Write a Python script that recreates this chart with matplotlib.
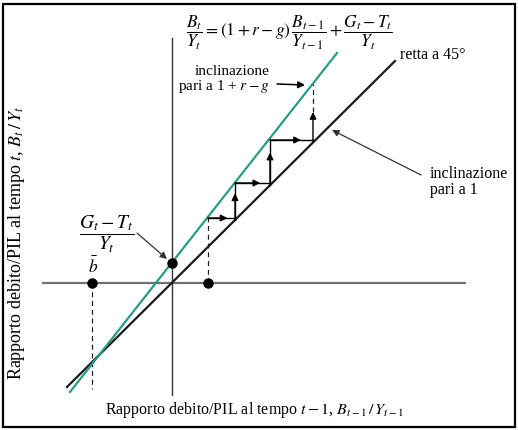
import matplotlib
matplotlib.use("Agg")
import matplotlib.pyplot as plt
from matplotlib.patches import Rectangle

plt.rcParams['font.family'] = 'serif'
plt.rcParams['font.serif'] = ['Liberation Serif', 'DejaVu Serif']
plt.rcParams['mathtext.fontset'] = 'stix'

# ---- data ----
black_x = [-105, 223]          # 45-degree line
black_y = [-104, 222]
green_x = [-102, 165]          # line with slope 1 + r - g
green_y = [-109, 230]
b_bar = -80                    # stable debt ratio
intercept = 20.5               # (G - T)/Y
start_b = 36                   # initial debt ratio
step_x = [36, 63, 98, 141]     # vertical positions of staircase
step_y = [65, 100, 143]        # horizontal levels of staircase
last_top_solid = 171
last_top_green = 199
low_cross = -106               # where the b_bar dashed line ends

TEAL = '#2b9a86'

fig = plt.figure(figsize=(5.18, 4.30), dpi=100)
ax = fig.add_axes([0, 0, 1, 1])
ax.set_xlim(-172, 346)
ax.set_ylim(-147, 283)
ax.axis('off')

# frame
fig.patches.append(Rectangle((2.5/518, 3/430), 512.5/518, 423.5/430, transform=fig.transFigure,
                             fill=False, lw=1.6, ec='black'))

# axes
ax.plot([-129, 293], [0, 0], color='#707070', lw=1.6, zorder=1)
ax.plot([0, 0], [-112, 245], color='#333333', lw=1.0, zorder=1)

# lines
ax.plot(black_x, black_y, color='#1a1a1a', lw=1.6, zorder=3)
ax.plot(green_x, green_y, color=TEAL, lw=1.6, zorder=3)

# dashed guides
dash = dict(color='#222222', lw=0.9, ls=(0, (4, 3)), zorder=2)
ax.plot([b_bar, b_bar], [0, low_cross], **dash)
ax.plot([start_b, start_b], [0, step_y[0]], **dash)
ax.plot([step_x[3], step_x[3]], [last_top_solid, last_top_green], **dash)

AP = dict(arrowstyle='-|>', color='black', lw=1.0, mutation_scale=10, shrinkA=0, shrinkB=0)

def seg_arrow(x0, y0, x1, y1, frac=0.72):
    ax.plot([x0, x1], [y0, y1], color='black', lw=1.0, zorder=4)
    xm = x0 + (x1 - x0) * frac
    ym = y0 + (y1 - y0) * frac
    ax.annotate('', xy=(xm, ym), xytext=(x0, y0), arrowprops=AP, zorder=4)

# staircase
for i in range(3):
    seg_arrow(step_x[i], step_y[i], step_x[i + 1], step_y[i])
for i in range(1, 3):
    seg_arrow(step_x[i], step_x[i], step_x[i], step_y[i])
# last vertical: solid with arrow at its end
ax.annotate('', xy=(step_x[3], last_top_solid), xytext=(step_x[3], step_x[3]),
            arrowprops=AP, zorder=4)

# dots
ax.plot([0, b_bar, start_b], [intercept, 0, 0], 'o', color='black', ms=6.5, zorder=5)

FS = 11.5
# equation
ax.text(117, 250, r'$\dfrac{B_t}{Y_t} = (1 + r - g)\,\dfrac{B_{t-1}}{Y_{t-1}} + \dfrac{G_t - T_t}{Y_t}$',
        ha='center', va='center', fontsize=12.5)
ax.text(228, 228, 'retta a 45°', ha='left', va='center', fontsize=FS)

ax.text(98, 203, 'inclinazione\npari a 1 + $r - g$', ha='right', va='center',
        multialignment='right', fontsize=11, linespacing=1.0)
ax.annotate('', xy=(133, 198), xytext=(105, 199),
            arrowprops=dict(AP, lw=1.1))

ax.text(258, 101, 'inclinazione\npari a 1', ha='left', va='center', fontsize=FS,
        linespacing=1.0)
ax.annotate('', xy=(160, 153), xytext=(249, 108),
            arrowprops=dict(AP, color='#333333', lw=0.9))

ax.text(-65, 49, r'$\dfrac{G_t - T_t}{Y_t}$', ha='center', va='center', fontsize=14)
ax.annotate('', xy=(-5, 24), xytext=(-35, 50),
            arrowprops=dict(AP, color='#333333', lw=0.9))

ax.text(b_bar + 1, 16, r'$\bar{b}$', ha='center', va='center', fontsize=12.5)

ax.text(83, -127, r'Rapporto debito/PIL al tempo $t - 1$, $B_{t-1}\,/\,Y_{t-1}$',
        ha='center', va='center', fontsize=FS)
ax.text(-155, 40, r'Rapporto debito/PIL al tempo $t$, $B_t\,/\,Y_t$',
        ha='center', va='center', rotation=90, fontsize=13)

fig.savefig('out.png', dpi=100)
